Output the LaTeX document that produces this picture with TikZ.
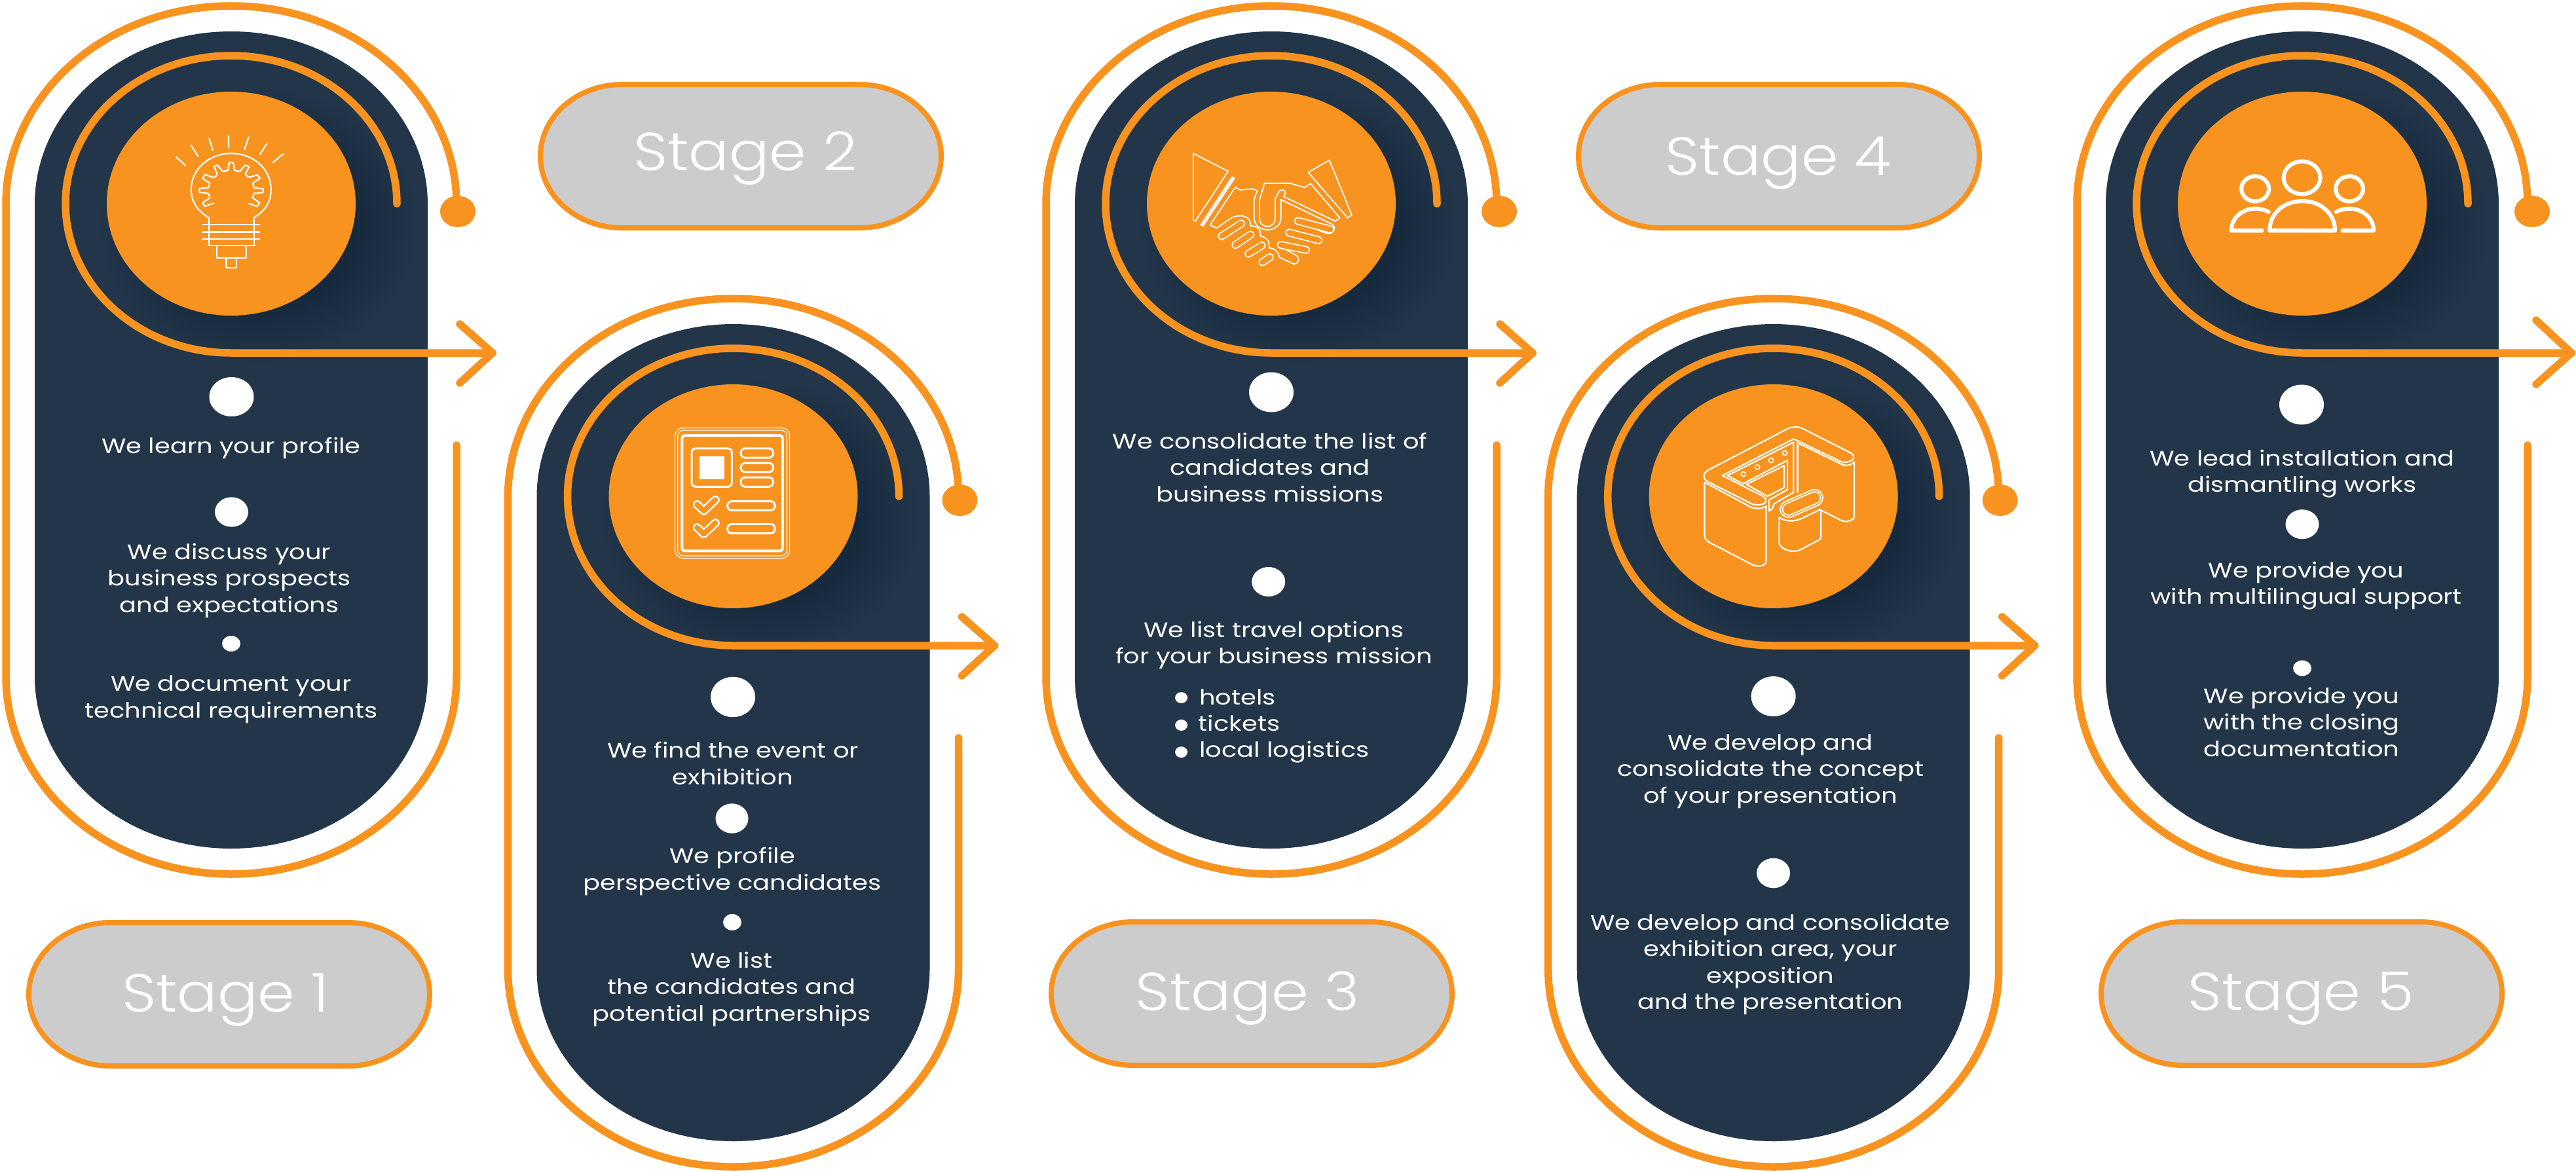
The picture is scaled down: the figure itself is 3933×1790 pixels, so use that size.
\documentclass[tikz,border=0pt]{standalone}
\usepackage{fontspec}
\setmainfont[FakeStretch=1.2]{Poppins}
\newfontfamily\stagef[FakeStretch=1.11]{Poppins Light}
\definecolor{navy}{HTML}{233649}
\definecolor{amber}{HTML}{F9931F}
\definecolor{pillgrey}{HTML}{CCCCCC}
\tikzset{
  rail/.style={draw=amber,line width=11.5pt,line cap=round,line join=round},
  bodytext/.style={text=white,font=\fontsize{32}{40.5}\selectfont,align=center,anchor=base,inner sep=0pt},
  stagetext/.style={text=white,font=\stagef\fontsize{82}{90}\selectfont,anchor=base,inner sep=0pt},
  stagepill/.style={draw=amber,fill=pillgrey,line width=8pt},
  ico/.style={draw=white,line width=2.2pt,line cap=round,line join=round},
  zoomA/.style={x=0.5102pt,y=-0.4464pt},
  zoomB/.style={x=0.4994pt,y=-0.4464pt}
}
\newcommand\stagepanel[8]{% cx, dy, tip, arm, armup, armdown, dotx, doty
  \begin{scope}[shift={(#1,#2)}]
    \fill[navy] (-300,312) arc[start angle=180,end angle=360,x radius=300,y radius=264]
      -- (300,1033) arc[start angle=0,end angle=180,x radius=300,y radius=263] -- cycle;
    \foreach \k in {0,...,11}{
      \fill[black,opacity=0.008] (42,345) ellipse [x radius={240-\k*8},y radius={208-\k*7}];
    }
    \fill[amber] (0,311) ellipse [x radius=190,y radius=171];
    \draw[rail] (344,680) -- (344,1033) arc[start angle=0,end angle=180,x radius=344,y radius=302]
      -- (-344,312) arc[start angle=-180,end angle=0,x radius=344,y radius=303];
    \fill[amber] (#7,#8) ellipse [x radius=27,y radius=24];
    \draw[rail] (253,311) arc[start angle=0,end angle=-180,x radius=253,y radius=226]
      arc[start angle=180,end angle=90,x radius=253,y radius=228] -- (#3,539);
    \draw[rail] (#4,#5) -- (#3,539) -- (#4,#6);
  \end{scope}
}
\newcommand\wdot[4]{\fill[white] (#1,#2) ellipse [x radius=#3,y radius=#4];}
\newcommand\pill[2]{%
  \draw[stagepill] (#1-181,#2-109.5) -- (#1+181,#2-109.5)
    arc[start angle=-90,end angle=90,x radius=125,y radius=109.5]
    -- (#1-181,#2+109.5)
    arc[start angle=90,end angle=270,x radius=125,y radius=109.5] -- cycle;
}
\begin{document}
\begin{tikzpicture}[x=1pt,y=-1pt]
\useasboundingbox (0,0) rectangle (3933,1790);
\stagepanel{353}{0}{399}{349}{495}{585}{346}{323}
\stagepanel{1119.5}{447}{399}{349}{495}{585}{346}{317}
\stagepanel{1941}{0}{399}{349}{495}{585}{348}{323}
\stagepanel{2707.7}{447}{399}{349}{495}{585}{346}{317}
\stagepanel{3515}{0}{411}{357}{489}{587}{351}{323}
% stage pills
\pill{350}{1518.5}
\pill{1131}{238.5}
\pill{1911}{1517.5}
\pill{2716}{238.5}
\pill{3514}{1517.5}
\node[stagetext] (s1) at (344,1545) {Stage 1};
\node[stagetext] (s2) at (1138,261) {Stage 2};
\node[stagetext] (s3) at (1905,1543) {Stage 3};
\node[stagetext] (s4) at (2715,267) {Stage 4};
\node[stagetext] (s5) at (3513,1543) {Stage 5};
% panel 1 text
\wdot{353.5}{606}{34}{30}
\node[bodytext] (t11) at (353,692) {We learn your profile};
\wdot{353.5}{782}{25.5}{22.7}
\node[bodytext] (t12) at (350,935) {We discuss your\\business prospects\\and expectations};
\wdot{353}{983}{14}{12}
\node[bodytext] (t13) at (353,1096) {We document your\\technical requirements};
% panel 2 text
\wdot{1119}{1064.5}{34}{30.7}
\node[bodytext] (t21) at (1119,1198) {We find the event or\\exhibition};
\wdot{1117.5}{1250}{25}{22.7}
\node[bodytext] (t22) at (1118,1359) {We profile\\perspective candidates};
\wdot{1118}{1408.5}{14}{12.5}
\node[bodytext] (t23) at (1117,1559) {We list\\the candidates and\\potential partnerships};
% panel 3 text
\wdot{1941}{599}{34}{30.5}
\node[bodytext] (t31) at (1939,766) {We consolidate the list of\\candidates and\\business missions};
\wdot{1936.7}{888.5}{25.5}{22.5}
\node[bodytext] (t32) at (1945,1013.5) {We list travel options\\for your business mission};
\wdot{1803.6}{1065.6}{9.5}{8.5}
\wdot{1803.6}{1107.5}{9.5}{8.5}
\wdot{1803.6}{1148.7}{9.5}{8.5}
\node[bodytext,anchor=base west] (t33) at (1831,1076) {hotels};
\node[bodytext,anchor=base west] (t34) at (1829.6,1116) {tickets};
\node[bodytext,anchor=base west] (t35) at (1831,1156.6) {local logistics};
% panel 4 text
\wdot{2707.6}{1063.5}{34}{30.5}
\node[bodytext] (t41) at (2703,1226) {We develop and\\consolidate the concept\\of your presentation};
\wdot{2707.6}{1333.5}{25.5}{22.8}
\node[bodytext] (t42) at (2703,1541.6) {We develop and consolidate\\exhibition area, your\\exposition\\and the presentation};
% panel 5 text
\wdot{3514}{618}{34}{30.5}
\node[bodytext] (t51) at (3515,751.7) {We lead installation and\\dismantling works};
\wdot{3515}{800.7}{25.5}{22.5}
\node[bodytext] (t52) at (3521,922.5) {We provide you\\with multilingual support};
\wdot{3515}{1020.5}{14}{12}
\node[bodytext] (t53) at (3514,1155) {We provide you\\with the closing\\documentation};
% bulb icon
\begin{scope}[zoomA]
  \draw[ico] (527,537)--(555,566) (572,498)--(593,535) (626,473)--(637,514) (684,464)--(684,505)
    (744,469)--(732,511) (799,491)--(778,528) (847,527)--(817,556);
  \draw[ico] (625,768)--(625,745) .. controls (590,720) and (572,690) .. (572,648)
    .. controls (572,580) and (625,525) .. (692,525) .. controls (760,525) and (811,580) .. (811,648)
    .. controls (811,690) and (795,720) .. (760,745) -- (760,768);
  \draw[ico] (640,695)--(613,706)--(606,694)--(628,677)--(624,662)--(597,658)--(597,645)--(624,642)
    --(628,627)--(606,610)--(614,597)--(640,608)--(651,597)--(640,570)--(651,565)--(667,587)--(682,583)
    --(686,556)--(698,556)--(702,583)--(717,587)--(734,565)--(745,571)--(734,597)--(745,607)--(770,598)
    --(778,610)--(756,627)--(760,642)--(787,646)--(787,659)--(760,662)--(756,677)--(777,694)--(769,707)--(745,696);
  \draw[ico] (606,768)--(777,768) (606,794)--(777,794) (606,817)--(777,817)
    (625,768)--(625,840) (760,768)--(760,840) (622,840)--(762,840)
    (648,840)--(648,882)--(737,882)--(737,840) (677,882)--(677,917)--(707,917)--(707,882);
\end{scope}
% document icon
\begin{scope}[shift={(800,500)},zoomA]
  \draw[ico,line width=1.2pt,rounded corners=12pt] (452,344) rectangle (795,790);
  \draw[ico,line width=1.2pt,rounded corners=9pt] (460,352) rectangle (787,782);
  \draw[ico,line width=4pt,rounded corners=4pt] (473,370) rectangle (774,765);
  \draw[ico,line width=3pt,rounded corners=6pt] (502,414) rectangle (622,545);
  \fill[white] (525,441) rectangle (600,520);
  \foreach \a/\b in {414/446,464/495,513/545}{
    \draw[ico,line width=3pt,rounded corners=6.5pt] (649,\a) rectangle (746,\b);}
  \foreach \a/\b in {595/626,673/705}{
    \draw[ico,line width=3pt,rounded corners=6.5pt] (609,\a) rectangle (751,\b);}
  \foreach \d in {0,79}{
    \draw[white,line width=13pt,line cap=round,line join=round] (518,606+\d)--(538,628+\d)--(573,590+\d);
    \draw[amber,line width=8pt,line cap=round,line join=round] (518,606+\d)--(538,628+\d)--(573,590+\d);}
\end{scope}
% handshake icon
\begin{scope}[shift={(1600,0)},zoomA]
  \tikzset{ico/.append style={line width=1.8pt}}
  \draw[ico] (435,525)--(539,586)--(441,757)--(435,753)--cycle;
  \fill[white!94!black] (550,603)--(561,609)--(465,776)--(455,770)--cycle;
  \draw[ico] (842,548)--(909,735)--(897,746)--(779,590)--cycle;
  \draw[ico] (485,770)--(561,640)--(575,650)--(612,646)--(626,652)--(617,682)--(617,745)
    .. controls (617,800) and (697,800) .. (697,745) -- (697,683) -- (852,768)
    .. controls (866,785) and (850,808) .. (825,795) -- (742,755);
  \draw[ico] (633,685)--(648,627)--(725,627)--(768,642)--(786,628)--(873,745)--(860,757)--(705,672)--(711,660)
    .. controls (708,648) and (698,646) .. (692,655) -- (680,680) -- (680,745)
    .. controls (680,785) and (633,785) .. (633,745) -- cycle;
  \draw[ico] (485,770)--(505,780)--(550,745) .. controls (575,730) and (610,740) .. (606,772)
    .. controls (630,775) and (640,790) .. (635,808)
    .. controls (655,812) and (665,825) .. (662,848)
    .. controls (680,850) and (692,865) .. (692,880) -- (735,903)
    .. controls (750,905) and (755,885) .. (745,875) -- (690,840);
  \foreach \a/\b/\c/\e in {520/808/578/765,561/838/606/803,600/868/640/840,642/897/664/880,
     748/756/845/785,722/796/810/822,697/838/772/855}{
    \draw[white,line width=12pt,line cap=round] (\a,\b)--(\c,\e);
    \draw[amber,line width=8.4pt,line cap=round] (\a,\b)--(\c,\e);}
\end{scope}
% booth icon
\begin{scope}[shift={(2400,500)},zoomA]
  \draw[ico] (410,487)--(645,347) .. controls (662,338) and (680,340) .. (692,347) -- (835,430)
    .. controls (850,440) and (845,462) .. (810,462) -- (670,385) -- (663,382) -- (450,507)--(572,578)
    .. controls (590,590) and (580,615) .. (540,605) -- (410,530) .. controls (390,520) and (390,498) .. (410,487) -- cycle;
  \draw[ico] (397,530)--(397,712) .. controls (397,725) and (405,732) .. (415,738) -- (540,812)
    .. controls (560,822) and (581,815) .. (581,800) -- (581,612) .. controls (565,622) and (550,622) .. (535,615) -- (397,530);
  \draw[ico] (465,507)--(663,393)--(663,565)--(610,600) .. controls (600,608) and (600,615) .. (600,620) -- (590,628)--(590,590)--(645,555)--(645,455)--(512,535)--(465,507);
  \draw[ico] (522,537)--(635,473)--(635,548)--(585,578)--cycle;
  \draw[ico] (675,395)--(810,470) .. controls (825,475) and (835,472) .. (845,460) -- (845,650)
    .. controls (835,665) and (820,668) .. (805,660) -- (745,625);
  \draw[ico] (675,395)--(675,565);
  \foreach \x/\y in {513/502,555/478,596/455,637/430}{
    \draw[ico,line width=1.6pt] (\x,\y) ellipse [x radius=7,y radius=8];}
  \draw[white,line width=27pt,line cap=round] (648,622)--(726,583);
  \draw[amber,line width=23pt,line cap=round] (648,622)--(726,583);
  \draw[white,line width=20pt,line cap=round] (648,622)--(726,583);
  \draw[amber,line width=16pt,line cap=round] (648,622)--(726,583);
  \draw[ico] (620,650)--(620,740) .. controls (630,765) and (665,772) .. (685,760) -- (735,730) .. controls (745,725) and (745,720) .. (745,715) -- (745,625);
  \draw[ico] (620,650) .. controls (640,665) and (665,665) .. (685,655) -- (745,622);
\end{scope}
% people icon
\begin{scope}[shift={(3150,0)},zoomB]
  \tikzset{ico/.append style={line width=6.2pt}}
  \draw[ico] (730,608) ellipse [x radius=56,y radius=56];
  \draw[ico] (587,646) ellipse [x radius=42,y radius=43];
  \draw[ico] (875,646) ellipse [x radius=42,y radius=43];
  \draw[ico] (631,789) .. controls (631,730) and (675,688) .. (731,688) .. controls (787,688) and (831,730) .. (831,789) -- cycle;
  \draw[ico] (608,789)--(514,789) .. controls (514,745) and (548,714) .. (587,714) .. controls (603,714) and (617,718) .. (628,725);
  \draw[ico] (854,789)--(949,789) .. controls (949,745) and (915,714) .. (875,714) .. controls (860,714) and (846,718) .. (835,725);
\end{scope}
\end{tikzpicture}
\end{document}
